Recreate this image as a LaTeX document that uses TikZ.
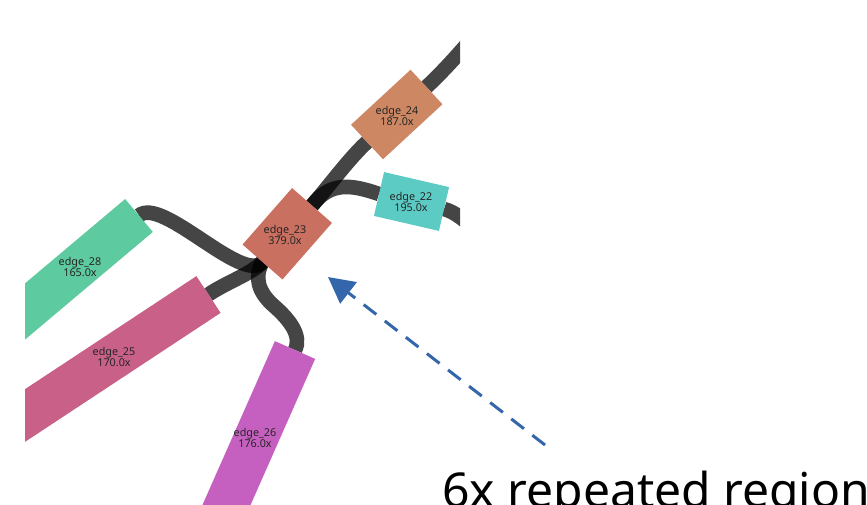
\documentclass[tikz,border=0pt]{standalone}
\usepackage{fontspec}
\setmainfont{Noto Sans}
\usetikzlibrary{arrows.meta}

\definecolor{cTwentyTwo}{HTML}{5CCBC4}
\definecolor{cTwentyThree}{HTML}{C97060}
\definecolor{cTwentyFour}{HTML}{CD8762}
\definecolor{cTwentyFive}{HTML}{C96088}
\definecolor{cTwentySix}{HTML}{C660C0}
\definecolor{cTwentyEight}{HTML}{5ECAA0}
\definecolor{pointer}{HTML}{3366AA}

\begin{document}
\begin{tikzpicture}[x=0.75pt,y=-0.75pt,
  flow/.style={draw=black, draw opacity=0.73, line width=11pt, line cap=butt},
  band/.style={line width=#1, line cap=butt},
  lbl/.style={font=\fontsize{8.1}{8.8}\selectfont, align=center, text=black!85, inner sep=0pt},
  pointerline/.style={draw=pointer, line width=2.25pt, dash pattern=on 12pt off 8pt,
    -{Triangle[length=19.5pt,width=20pt]}},
]
\useasboundingbox (0,0) rectangle (867,504);

\begin{scope}
  \clip (25,0) rectangle (460,504);

  % end points of the coloured edge segments
  \coordinate (e24a) at (367,142);   \coordinate (e24b) at (426.5,87);
  \coordinate (e23a) at (262.5,262); \coordinate (e23b) at (312,205.5);
  \coordinate (e22a) at (379,194);   \coordinate (e22b) at (444,209);
  \coordinate (e28a) at (139,215.5); \coordinate (e28b) at (0,332.5);
  \coordinate (e25a) at (208.5,294.5); \coordinate (e25b) at (0,432);
  \coordinate (e26a) at (295,350);   \coordinate (e26b) at (211,540);
  \coordinate (outN) at (475,35);    \coordinate (outE) at (480,235);

  % dark connecting flows (semi-transparent, darker where they overlap)
  \draw[flow] (e23b) .. controls (328.5,186.7) and (348.6,159) .. (e24a);
  \draw[flow] (e24b) .. controls (440,74) and (450,64) .. (outN);
  \draw[flow] (e23b) .. controls (330,182) and (350,184) .. (e22a);
  \draw[flow] (e22b) .. controls (455,212) and (465,220) .. (outE);
  \draw[flow] (e23a) .. controls (242.7,284.6) and (162,196) .. (e28a);
  \draw[flow] (e23a) .. controls (252.6,273.3) and (225,283) .. (e25a);
  \draw[flow] (e23a) .. controls (254,277) and (258,292) .. (274,306)
                     .. controls (290,320) and (302,336) .. (e26a);

  % coloured edge segments
  \draw[band=35.25pt, draw=cTwentyFour]  (e24a) -- (e24b);
  \draw[band=39.75pt, draw=cTwentyThree] (e23a) -- (e23b);
  \draw[band=33.75pt, draw=cTwentyTwo]   (e22a) -- (e22b);
  \draw[band=32.25pt, draw=cTwentyEight] (e28a) -- (e28b);
  \draw[band=33pt,    draw=cTwentyFive]  (e25a) -- (e25b);
  \draw[band=33pt,    draw=cTwentySix]   (e26a) -- (e26b);

  % labels
  \node[lbl] (l24) at (397,116) {edge\_24\\187.0x};
  \node[lbl] (l23) at (285,235) {edge\_23\\379.0x};
  \node[lbl] (l22) at (411,202) {edge\_22\\195.0x};
  \node[lbl] (l28) at (80,267)  {edge\_28\\165.0x};
  \node[lbl] (l25) at (114,357) {edge\_25\\170.0x};
  \node[lbl] (l26) at (255,438) {edge\_26\\176.0x};
\end{scope}

% annotation
\node[anchor=base west, font=\fontsize{36}{40}\selectfont, inner sep=0pt] (note) at (442,507) {6x repeated region};
\coordinate (arrTail) at (545,445);
\coordinate (arrTip) at (328,277);
\draw[pointerline] (arrTail) -- (arrTip);
\end{tikzpicture}
\end{document}
